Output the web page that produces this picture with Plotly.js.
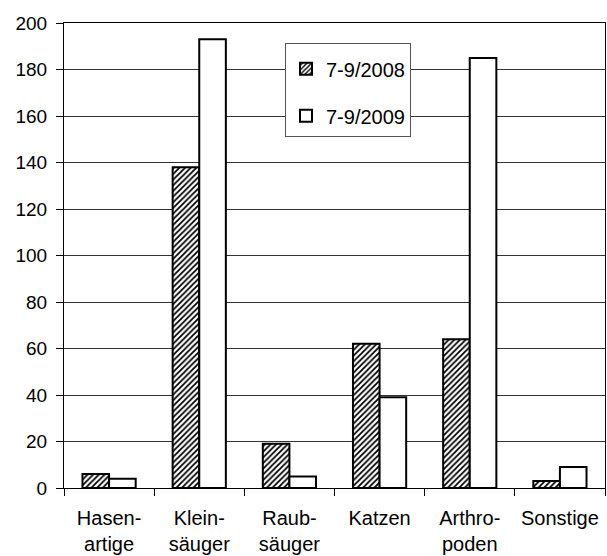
<!DOCTYPE html>
<html>
<head>
<meta charset="utf-8">
<script src="https://cdn.plot.ly/plotly-3.0.1.min.js"></script>
<style>html,body{margin:0;padding:0;background:#fff;}</style>
</head>
<body>
<div id="chart" style="width:607px;height:556px;"></div>
<script>
const categories = ["Hasen-<br>artige", "Klein-<br>säuger", "Raub-<br>säuger", "Katzen", "Arthro-<br>poden", "Sonstige"];
const series2008 = [6, 138, 19, 62, 64, 3];
const series2009 = [4, 193, 5, 39, 185, 9];
const yTicks = [0, 20, 40, 60, 80, 100, 120, 140, 160, 180, 200];

const fam = "Liberation Sans, Arial, sans-serif";
const font = {family: fam, size: 20, color: "#000"};

const traces = [
  {
    type: "bar", name: "7-9/2008", x: categories, y: series2008,
    legendgroup: "a",
    marker: {color: "#fff", line: {color: "#000", width: 2},
      pattern: {shape: "/", fgcolor: "#000", bgcolor: "#fff", size: 4, solidity: 0.45}}
  },
  {
    type: "bar", name: "7-9/2009", x: categories, y: series2009,
    legendgroup: "b",
    marker: {color: "#fff", line: {color: "#000", width: 2}}
  }
];

const layout = {
  width: 607, height: 556,
  margin: {l: 64, r: 2, t: 23, b: 68},
  paper_bgcolor: "#fff", plot_bgcolor: "#fff",
  font: font,
  barmode: "group", bargap: 0.41, bargroupgap: 0,
  showlegend: true,
  legend: {
    x: 0.4085, y: 0.957, xanchor: "left", yanchor: "top",
    bgcolor: "#fff", bordercolor: "#555", borderwidth: 1,
    traceorder: "grouped", tracegroupgap: 18,
    title: {text: " ", font: {family: fam, size: 4}},
    font: font
  },
  xaxis: {
    type: "category",
    showline: true, linecolor: "#000", linewidth: 1, mirror: true,
    ticks: "outside", tickson: "boundaries", ticklen: 7, tickcolor: "#000",
    showgrid: false, ticklabelstandoff: 12,
    tickfont: font
  },
  yaxis: {
    range: [0, 200], tickvals: yTicks, ticktext: yTicks.map(String),
    showline: true, linecolor: "#000", linewidth: 1, mirror: true,
    ticks: "outside", ticklen: 7, tickcolor: "#000",
    showgrid: true, gridcolor: "#333", gridwidth: 1,
    zeroline: false, ticklabelstandoff: 5,
    tickfont: {family: fam, size: 19, color: "#000"}
  }
};

Plotly.newPlot("chart", traces, layout, {displayModeBar: false, staticPlot: true});
</script>
</body>
</html>
